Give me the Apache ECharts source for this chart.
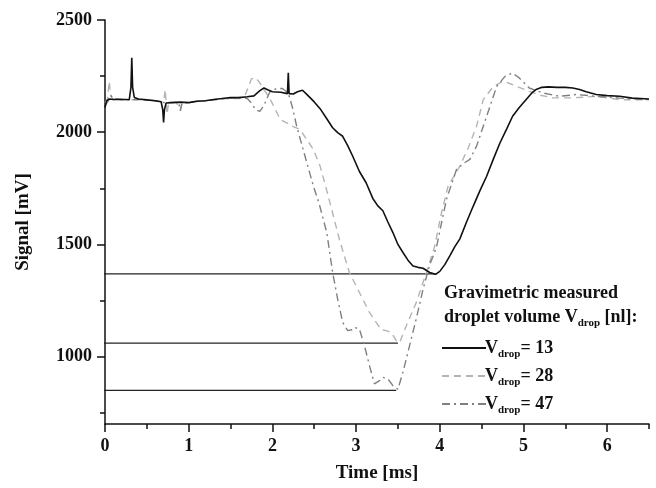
<!DOCTYPE html>
<html><head><meta charset="utf-8">
<script src="https://cdn.jsdelivr.net/npm/echarts@6/dist/echarts.min.js"></script>
<style>html,body{margin:0;padding:0;background:#fff}#c{width:656px;height:488px}</style>
</head><body><div id="c"></div>
<script>
// Time [ms] / Signal [mV] samples
const v13 = [[0.00,2110],[0.02,2140],[0.05,2148],[0.10,2146],[0.15,2147],[0.20,2146],[0.25,2146],[0.29,2145],[0.31,2200],[0.32,2332],[0.33,2200],[0.35,2155],[0.40,2148],[0.50,2144],[0.60,2140],[0.67,2136],[0.69,2100],[0.70,2044],[0.71,2100],[0.73,2130],[0.80,2132],[0.90,2134],[1.00,2132],[1.10,2138],[1.20,2140],[1.30,2146],[1.40,2150],[1.50,2155],[1.60,2154],[1.70,2158],[1.78,2162],[1.85,2185],[1.90,2197],[1.95,2188],[2.00,2180],[2.10,2178],[2.18,2172],[2.19,2265],[2.20,2172],[2.25,2170],[2.30,2180],[2.36,2187],[2.42,2165],[2.50,2135],[2.57,2105],[2.65,2060],[2.72,2020],[2.78,1998],[2.84,1982],[2.90,1940],[2.96,1893],[3.04,1825],[3.12,1775],[3.20,1705],[3.26,1672],[3.32,1650],[3.38,1600],[3.44,1553],[3.50,1500],[3.56,1464],[3.62,1430],[3.68,1404],[3.74,1398],[3.80,1394],[3.88,1375],[3.95,1367],[4.00,1380],[4.06,1410],[4.12,1449],[4.18,1490],[4.24,1525],[4.32,1600],[4.40,1671],[4.48,1740],[4.56,1804],[4.64,1880],[4.72,1953],[4.80,2015],[4.87,2071],[4.95,2110],[5.03,2145],[5.10,2175],[5.15,2190],[5.22,2200],[5.30,2202],[5.40,2200],[5.50,2200],[5.59,2197],[5.67,2190],[5.75,2180],[5.87,2168],[6.00,2163],[6.15,2160],[6.30,2152],[6.40,2150],[6.50,2148]];
const v28 = [[0.00,2130],[0.03,2150],[0.05,2227],[0.07,2160],[0.10,2145],[0.20,2146],[0.30,2145],[0.40,2145],[0.50,2143],[0.60,2140],[0.70,2135],[0.72,2190],[0.74,2080],[0.76,2130],[0.85,2133],[0.90,2100],[0.92,2130],[1.00,2132],[1.10,2137],[1.20,2140],[1.30,2143],[1.40,2148],[1.50,2150],[1.60,2150],[1.68,2170],[1.75,2238],[1.80,2243],[1.85,2220],[1.90,2190],[1.97,2150],[2.05,2090],[2.10,2055],[2.17,2042],[2.25,2025],[2.33,2012],[2.41,1968],[2.49,1923],[2.57,1849],[2.65,1740],[2.72,1640],[2.80,1523],[2.92,1375],[3.04,1286],[3.16,1197],[3.24,1153],[3.30,1120],[3.36,1116],[3.42,1108],[3.48,1071],[3.52,1062],[3.60,1138],[3.72,1242],[3.84,1375],[3.94,1493],[4.02,1640],[4.10,1760],[4.24,1849],[4.34,1930],[4.44,2027],[4.52,2145],[4.64,2204],[4.76,2227],[4.85,2215],[4.92,2204],[5.07,2182],[5.20,2165],[5.35,2153],[5.59,2153],[5.87,2160],[6.15,2145],[6.50,2145]];
const v47 = [[0.00,2120],[0.04,2140],[0.07,2165],[0.10,2148],[0.20,2146],[0.30,2145],[0.40,2146],[0.50,2144],[0.60,2140],[0.70,2132],[0.80,2133],[0.88,2133],[0.90,2095],[0.92,2130],[1.00,2133],[1.10,2138],[1.20,2140],[1.30,2145],[1.40,2150],[1.50,2152],[1.60,2155],[1.70,2150],[1.75,2130],[1.80,2100],[1.85,2093],[1.90,2120],[1.97,2180],[2.05,2195],[2.12,2195],[2.19,2175],[2.24,2110],[2.29,2027],[2.39,1893],[2.49,1760],[2.56,1680],[2.65,1553],[2.72,1375],[2.78,1256],[2.84,1153],[2.90,1116],[2.95,1120],[2.98,1131],[3.04,1123],[3.10,1049],[3.16,960],[3.22,879],[3.28,893],[3.32,908],[3.38,901],[3.44,871],[3.50,855],[3.56,931],[3.64,1050],[3.72,1170],[3.80,1300],[3.88,1410],[3.96,1486],[4.08,1701],[4.20,1834],[4.28,1860],[4.36,1879],[4.44,1938],[4.56,2071],[4.68,2204],[4.78,2249],[4.87,2264],[4.95,2242],[5.07,2197],[5.23,2175],[5.43,2160],[5.63,2168],[5.87,2160],[6.15,2152],[6.50,2145]];
// minimum level reference lines: [start time, end time, level]
const refLines = [[-0.12, 3.95, 1369], [-0.12, 3.50, 1060], [-0.12, 3.48, 850]];
const legendNames = ['13', '28', '47'];
const xLabels = [0, 1, 2, 3, 4, 5, 6];
const xMinor = [0.5, 1.5, 2.5, 3.5, 4.5, 5.5, 6.5];
const yLabels = [1000, 1500, 2000, 2500];
const yMinor = [750, 1250, 1750, 2250];

const F = 'Liberation Serif';
const axisFont = {fontFamily: F, fontWeight: 'bold', fontSize: 18, color: '#111'};
const chart = echarts.init(document.getElementById('c'), null, {renderer: 'canvas'});
const refSeries = refLines.map(r => ({
  type: 'line', data: [[r[0], r[2]], [r[1], r[2]]], symbol: 'none', clip: false, silent: true,
  lineStyle: {color: '#222', width: 1.3}, z: 1
}));
chart.setOption({
  animation: false,
  backgroundColor: '#fff',
  grid: {left: 105, right: 7, top: 20, bottom: 63},
  title: {
    left: 439, top: 276,
    text: '{t|Gravimetric measured}\n{t|droplet volume V}{s|drop}{t| [nl]:}',
    textStyle: {rich: {
      t: {fontFamily: F, fontWeight: 'bold', fontSize: 18, color: '#111', lineHeight: 24},
      s: {fontFamily: F, fontWeight: 'bold', fontSize: 11, color: '#111', padding: [12, 0, 0, 0], lineHeight: 24}
    }}
  },
  legend: {
    left: 436, top: 331, orient: 'vertical', itemWidth: 44, itemHeight: 14, itemGap: 4,
    data: legendNames,
    itemStyle: {opacity: 0},
    formatter: n => '{v|V}{s|drop}{v|= ' + n + '}',
    textStyle: {padding: [0, 0, 0, -6], rich: {
      v: {fontFamily: F, fontWeight: 'bold', fontSize: 18, color: '#111', lineHeight: 22},
      s: {fontFamily: F, fontWeight: 'bold', fontSize: 11, color: '#111', padding: [13, 0, 0, 0], lineHeight: 22}
    }}
  },
  xAxis: [{
    type: 'value', min: 0, max: 6.5,
    name: 'Time [ms]', nameLocation: 'middle', nameGap: 40,
    nameTextStyle: {fontFamily: F, fontWeight: 'bold', fontSize: 19, color: '#111'},
    axisLine: {lineStyle: {color: '#111', width: 1.5}},
    axisTick: {length: 8, lineStyle: {color: '#111', width: 1.5}, customValues: xLabels},
    axisLabel: Object.assign({margin: 13, customValues: xLabels}, axisFont),
    splitLine: {show: false}
  }, {
    type: 'value', min: 0, max: 6.5, position: 'bottom', gridIndex: 0,
    axisLine: {show: false},
    axisTick: {length: 5, lineStyle: {color: '#111', width: 1.5}, customValues: xMinor},
    axisLabel: {show: false}, splitLine: {show: false}
  }],
  yAxis: [{
    type: 'value', min: 700, max: 2500,
    name: 'Signal [mV]', nameLocation: 'middle', nameGap: 72,
    nameTextStyle: {fontFamily: F, fontWeight: 'bold', fontSize: 19, color: '#111'},
    axisLine: {show: true, lineStyle: {color: '#111', width: 1.5}},
    axisTick: {show: true, length: 8, lineStyle: {color: '#111', width: 1.5}, customValues: yLabels},
    axisLabel: Object.assign({margin: 13, customValues: yLabels, formatter: v => String(v)}, axisFont),
    splitLine: {show: false}
  }, {
    type: 'value', min: 700, max: 2500, position: 'left',
    axisLine: {show: false},
    axisTick: {show: true, length: 5, lineStyle: {color: '#111', width: 1.5}, customValues: yMinor},
    axisLabel: {show: false}, splitLine: {show: false}
  }],
  series: [
    {name: '13', type: 'line', data: v13, symbol: 'none', z: 5,
     lineStyle: {color: '#111', width: 1.6}, itemStyle: {color: '#111'}},
    {name: '28', type: 'line', data: v28, symbol: 'none', z: 4,
     lineStyle: {color: '#b4b4b4', width: 1.4, type: [7, 5]}, itemStyle: {color: '#b4b4b4'}},
    {name: '47', type: 'line', data: v47, symbol: 'none', z: 4,
     lineStyle: {color: '#808080', width: 1.4, type: [8, 4, 2, 4]}, itemStyle: {color: '#808080'}}
  ].concat(refSeries)
});
</script></body></html>
